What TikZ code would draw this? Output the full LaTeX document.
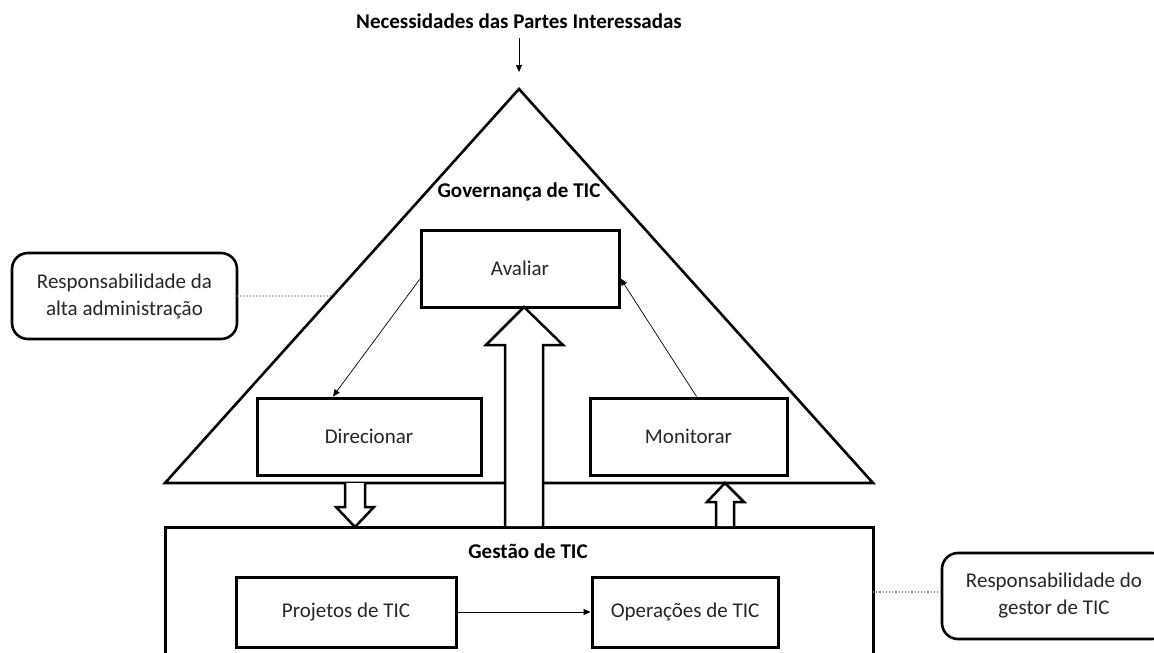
\documentclass[tikz,border=0pt]{standalone}
\usepackage{fontspec}
\setmainfont{Carlito}
\usetikzlibrary{arrows.meta,calc}
\begin{document}
\begin{tikzpicture}[x=1pt,y=-1pt,
  txt/.style={font=\fontsize{21}{25}\selectfont, text=black!85},
  btxt/.style={font=\fontsize{21}{25}\selectfont\bfseries, text=black},
  notetxt/.style={font=\fontsize{21}{27}\selectfont, text=black!85, align=center},
  box/.style={draw, line width=3pt, fill=white, txt, inner sep=0pt},
  rbox/.style={draw, line width=2.6pt, rounded corners=16pt, fill=white},
  thin/.style={line width=0.7pt, -{Triangle[length=7pt,width=6pt]}},
  blockarrow/.style={draw, line width=2.5pt, fill=white, line join=miter},
  dotline/.style={gray, line width=1.2pt, dotted}
]
\useasboundingbox (0,0) rectangle (1154,653);
\clip (0,0) rectangle (1154,653);

% title
\node[btxt] (title) at (519,21) {Necessidades das Partes Interessadas};
\coordinate (apex) at (519,89);
\coordinate (bl) at (165,483);
\coordinate (br) at (873,483);
\draw[line width=2.6pt, line join=miter] (apex) -- (br) -- (bl) -- cycle;
\draw[thin] (title.south |- 0,38) -- ([yshift=17pt]apex);

\node[btxt] (gov) at (519,192) {Governança de TIC};

% management box
\draw[line width=3pt] (165,700) -- (165,527) coordinate (gtl) -- (873,527) coordinate (gtr) -- (873,700);
\node[btxt] (gest) at (528,551) {Gestão de TIC};
\coordinate (geast) at (873,592);

% boxes
\node[box, minimum width=198pt, minimum height=77pt] (avaliar) at (520,268.5) {Avaliar};
\node[box, minimum width=224pt, minimum height=77pt] (direcionar) at (369,436.5) {Direcionar};
\node[box, minimum width=197pt, minimum height=77pt] (monitorar) at (688.5,436.5) {Monitorar};
\node[box, minimum width=220pt, minimum height=70pt] (projetos) at (346,612) {Projetos de TIC};
\node[box, minimum width=186pt, minimum height=70pt] (operacoes) at (685,612) {Operações de TIC};

% thin arrows
\draw[thin] ([yshift=-11pt]avaliar.west) -- ([xshift=-36pt]direcionar.north);
\draw[thin] ([xshift=8pt]monitorar.north) -- ([yshift=-10pt]avaliar.east);
\draw[thin] (projetos.east) -- (operacoes.west);

% block arrows
\draw[blockarrow] (505,526) -- (505,345) -- (486,345) -- (524,307) -- (563,345) -- (543,345) -- (543,526);
\draw[blockarrow] (345,483) -- (345,507) -- (336,507) -- (355,527) -- (374,507) -- (365,507) -- (365,483);
\draw[blockarrow] (716,526) -- (716,502) -- (707,502) -- (725,483) -- (744,502) -- (734,502) -- (734,526);

% side notes
\draw[rbox] (12,253) rectangle (237,339);
\node[notetxt] (leftnote) at (124.5,296) {Responsabilidade da\\alta administração};
\draw[rbox] (942,553) rectangle (1168,639);
\node[notetxt] (rightnote) at (1054,596) {Responsabilidade do\\gestor de TIC};

\path (apex) -- (bl) coordinate[pos=0.5254] (lefthit);
\draw[dotline] (237,296) -- (lefthit);
\draw[dotline] (geast) -- (942,592);
\end{tikzpicture}
\end{document}
